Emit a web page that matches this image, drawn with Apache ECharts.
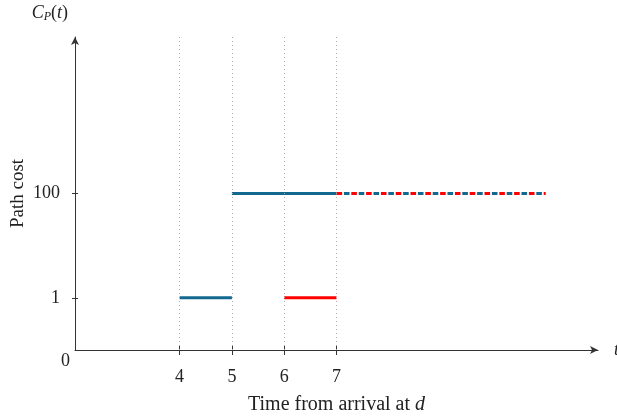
<!DOCTYPE html>
<html><head><meta charset="utf-8">
<script src="https://cdn.jsdelivr.net/npm/echarts@6/dist/echarts.min.js"></script>
<style>html,body{margin:0;padding:0;background:#fff}#c{width:617px;height:420px}</style>
</head><body><div id="c"></div>
<script>
// Data
const xTicks = [4, 5, 6, 7];
const costTicks = [0, 1, 100];            // tick labels on cost axis
const costLevels = [0, 1, 3];             // axis position of each cost tick (log-like scale)
const blueStarts = [4, 5];
const blueEnds   = [5, 7];
const blueCosts  = [1, 100];
const redStarts  = [6];
const redEnds    = [7];
const redCosts   = [1];
const mixedStart = [7];
const mixedEnd   = [11];
const mixedCost  = [100];

const BLUE = '#12688f', RED = '#ff0000';
const FONT = 'Liberation Serif';
const TXT = '#222';
const lvl = c => costLevels[costTicks.indexOf(c)];

const series = [];
// dotted guides
series.push({
  type: 'line', data: [], z: 1, silent: true,
  markLine: { symbol: 'none', silent: true, label: { show: false },
    lineStyle: { color: '#aaaaaa', type: [1, 3], width: 1 },
    data: xTicks.map(v => ({ xAxis: v })) }
});
function seg(s, e, c, color, extra) {
  series.push(Object.assign({
    type: 'line', symbol: 'none', z: 3, animation: false,
    data: [[s, lvl(c)], [e, lvl(c)]],
    lineStyle: { color: color, width: 3 }
  }, extra || {}));
}
blueStarts.forEach((s, i) => seg(s, blueEnds[i], blueCosts[i], BLUE));
redStarts.forEach((s, i) => seg(s, redEnds[i], redCosts[i], RED));
mixedStart.forEach((s, i) => {
  seg(s, mixedEnd[i], mixedCost[i], RED, { lineStyle: { color: RED, width: 3, type: [5.6, 9.2], dashOffset: 0 } });
  seg(s, mixedEnd[i], mixedCost[i], BLUE, { lineStyle: { color: BLUE, width: 3, type: [5.6, 9.2], dashOffset: 7.4 } });
});

const chart = echarts.init(document.getElementById('c'), null, { renderer: 'canvas' });
chart.setOption({
  animation: false,
  grid: { left: 75, right: 19, top: 37, bottom: 70, containLabel: false, outerBoundsMode: 'none' },
  xAxis: [{
    type: 'value', min: 2, max: 12,
    name: 'Time from arrival at {i|d}', nameLocation: 'middle', nameGap: 45,
    nameTextStyle: { fontFamily: FONT, fontSize: 20, color: TXT,
      rich: { i: { fontFamily: FONT, fontStyle: 'italic', fontSize: 20, color: TXT } } },
    axisLine: { lineStyle: { color: '#333', width: 1 }, symbol: ['none', 'arrow'], symbolSize: [6, 8] },
    axisTick: { show: true, length: 5, customValues: xTicks, lineStyle: { color: '#333' } },
    axisLabel: { customValues: xTicks, margin: 18, fontFamily: FONT, fontSize: 18, color: TXT },
    splitLine: { show: false }
  }, {
    type: 'value', min: 2, max: 12, position: 'bottom',
    name: 't', nameLocation: 'end', nameGap: 16,
    nameTextStyle: { fontFamily: FONT, fontStyle: 'italic', fontSize: 18, color: TXT },
    axisLine: { show: false },
    axisTick: { show: true, inside: true, length: 5, customValues: xTicks, lineStyle: { color: '#333' } },
    axisLabel: { show: false }, splitLine: { show: false }
  }],
  yAxis: [{
    type: 'value', min: 0, max: 6,
    name: 'Path cost', nameLocation: 'middle', nameGap: 47, nameMoveOverlap: false,
    nameTextStyle: { fontFamily: FONT, fontSize: 19, color: TXT },
    axisLine: { show: true, lineStyle: { color: '#333', width: 1 }, symbol: ['none', 'arrow'], symbolSize: [6, 8] },
    axisTick: { show: true, length: 3, customValues: [1, 3], lineStyle: { color: '#333' } },
    axisLabel: { customValues: [1, 3], margin: 15, fontFamily: FONT, fontSize: 18, color: TXT,
      formatter: v => { const k = costLevels.indexOf(v); return k < 0 ? '' : String(costTicks[k]); } },
    splitLine: { show: false }
  }, {
    type: 'value', min: 0, max: 6, position: 'left',
    name: '{i|C}{s|P}{n|(}{i|t}{n|)}', nameLocation: 'end', nameGap: 14,
    nameTextStyle: { align: 'right', padding: [0, 7, 0, 0],
      rich: { i: { fontFamily: FONT, fontStyle: 'italic', fontSize: 18, color: TXT },
              s: { fontFamily: FONT, fontStyle: 'italic', fontSize: 12, color: TXT, verticalAlign: 'bottom', padding: [7, 0, 0, 0] },
              n: { fontFamily: FONT, fontSize: 18, color: TXT } } },
    axisLine: { show: false },
    axisTick: { show: true, inside: true, length: 3, customValues: [1, 3], lineStyle: { color: '#333' } },
    axisLabel: { customValues: [0], margin: 5, color: TXT,
      formatter: v => '{z|' + costTicks[costLevels.indexOf(v)] + '}',
      rich: { z: { fontFamily: FONT, fontSize: 18, color: TXT, padding: [22, 0, 0, 0] } } },
    splitLine: { show: false }
  }],
  series: series
});
</script></body></html>
